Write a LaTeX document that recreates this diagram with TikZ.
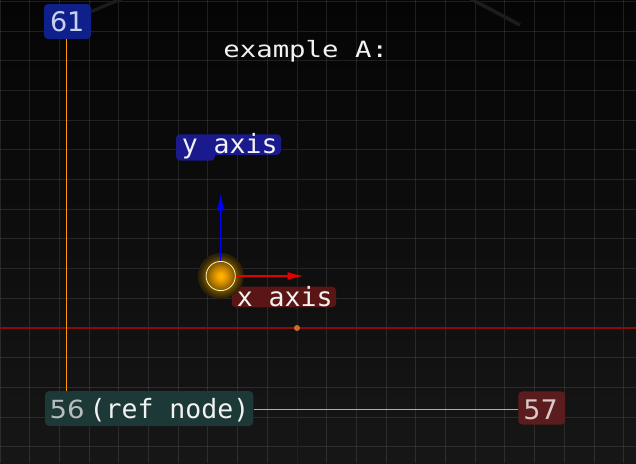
\documentclass[tikz,border=0pt]{standalone}
\usepackage{fontspec}
\newfontfamily\monof{DejaVu Sans Mono}
\newfontfamily\numf{DejaVu Sans}
\usetikzlibrary{arrows.meta}
\definecolor{bgtop}{HTML}{050505}
\definecolor{bgbot}{HTML}{161616}
\definecolor{axred}{HTML}{8C0A0A}
\definecolor{axblue}{HTML}{12128C}
\definecolor{orgdot}{HTML}{C8702A}
\definecolor{linkor}{HTML}{FF9A00}
\definecolor{linkor2}{HTML}{E8A838}
\definecolor{darkln}{HTML}{1C1C1C}
\definecolor{fill61}{HTML}{10208A}
\definecolor{fillY}{HTML}{1A1A8E}
\definecolor{fillX}{HTML}{5A1515}
\definecolor{fill56}{HTML}{1C3837}
\definecolor{fill57}{HTML}{5A1C1C}
\definecolor{txtw}{HTML}{F2F2F2}
\definecolor{num56}{HTML}{B8BCBC}
\definecolor{num57}{HTML}{D8C8C8}
\definecolor{num61}{HTML}{C8D0F0}
\definecolor{ringc}{HTML}{FFF4C0}
\definecolor{glowA}{HTML}{FFB800}
\definecolor{glowB}{HTML}{F0A000}
\definecolor{glowC}{HTML}{B07800}
\definecolor{glowD}{HTML}{5A4000}
\definecolor{glowE}{HTML}{302408}
\definecolor{glowG}{HTML}{1C1810}
\definecolor{glowF}{HTML}{101010}
\pgfdeclareradialshading{ptglow}{\pgfpointorigin}{color(0bp)=(glowA); color(4.6bp)=(glowB); color(10.8bp)=(glowC); color(18.5bp)=(glowD); color(23bp)=(glowE); color(29bp)=(glowG); color(35.4bp)=(glowF); color(50bp)=(glowF)}
\tikzset{
  gridline/.style={draw=white, draw opacity=0.1, line width=1pt},
  boxnode/.style={rectangle, rounded corners=4pt, inner sep=0pt, draw=none},
  labtxt/.style={anchor=base, inner sep=0pt, text=txtw, font=\monof\fontsize{26.5}{28}\selectfont},
  numtxt/.style={anchor=base, inner sep=0pt, font=\numf\fontsize{27}{29}\selectfont},
}
\begin{document}
\begin{tikzpicture}[x=1pt,y=-1pt]
\useasboundingbox (0,0) rectangle (636,463);
\shade[top color=bgtop, bottom color=bgbot] (0,0) rectangle (636,463);
% grid
\foreach \k in {-10,...,11} { \draw[gridline] ({297+29.7*\k},0) -- ({297+29.7*\k},463); }
\foreach \k in {-11,...,4} { \draw[gridline] (0,{328+29.7*\k}) -- (636,{328+29.7*\k}); }
% axes
\draw[axred, line width=1.2pt] (0,328) -- (636,328);
\draw[axblue, line width=0.9pt] (297,0) -- (297,463);
\fill[orgdot] (297,328) circle (3);
% boxes
\node[boxnode, fill=fill61, minimum width=47, minimum height=35] (n61) at (67.5,21.5) {};
\node[boxnode, fill=fill56, minimum width=208.3, minimum height=34.7] (n56) at (149.2,408.5) {};
\node[boxnode, fill=fill57, minimum width=46.7, minimum height=33.3] (n57) at (541.7,408) {};
% off-screen connectors
\coordinate (offa) at (121,-1);
\coordinate (offb) at (471,-1);
\coordinate (offc) at (520,25);
\draw[darkln, line width=3.2pt] (n61) -- (offa);
\draw[darkln, line width=3.6pt] (offb) -- (offc);
% links
\coordinate (vx) at (66.5,0);
\coordinate (hy) at (0,409.5);
\draw[linkor, line width=1.6pt] (n61.south -| vx) -- (n56.north -| vx);
\draw[linkor2, line width=1pt] (n56.east |- hy) -- (n57.west |- hy);
% texts in boxes
\node[numtxt, text=num61] (t61) at (67.2,31.7) {61};
\node[numtxt, text=num56] (t56) at (67.2,418.3) {\scalebox{1.1}[1]{\fontsize{25}{27}\selectfont 56}};
\node[labtxt] (tref) at (169.5,418.3) {(ref node)};
\node[numtxt, text=num57] (t57) at (540.5,419.5) {57};
% title
\node[anchor=base, inner sep=0pt, text=txtw] (title) at (305.7,57.3) {\scalebox{1.22}[1]{\monof\fontsize{22.4}{24}\selectfont example A:}};
% axis labels
\fill[fillY, rounded corners=4pt] (176,140) rectangle (215,160.5);
\node[boxnode, fill=fillY, minimum width=105, minimum height=20.5] (ybox) at (228.5,144.5) {};
\node[labtxt] (ylab) at (229.7,153.3) {y axis};
\node[boxnode, fill=fillX, minimum width=104.3, minimum height=20.6] (xbox) at (283.9,297) {};
\node[labtxt] (xlab) at (284.7,306) {x axis};
% point with glow
\shade[shading=ptglow] (220.7,276) circle (23);
\node[circle, minimum size=29.2, inner sep=0pt, draw=ringc, line width=0.8pt] (pt) at (220.7,276) {};
\coordinate (ytip) at (220.7,193.3);
\coordinate (xtip) at (303.5,276);
\draw[blue, line width=1.3pt, -{Latex[length=17pt,width=8pt]}] (pt.north) -- (ytip);
\draw[red!90!black, line width=1.5pt, -{Latex[length=16pt,width=8pt]}] (pt.east) -- (xtip);
\end{tikzpicture}
\end{document}
